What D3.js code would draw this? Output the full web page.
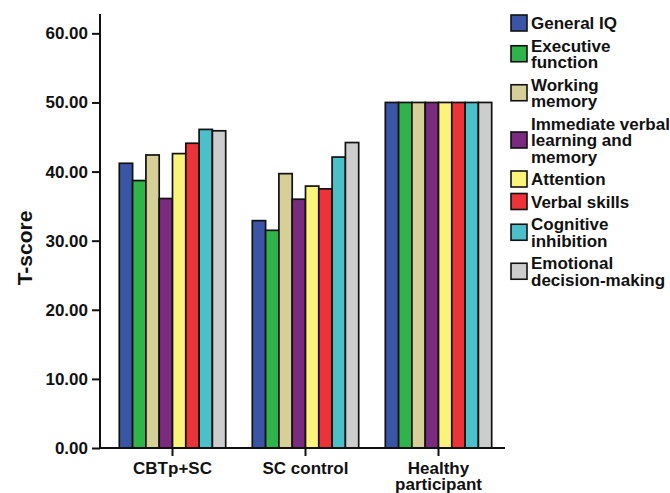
<!DOCTYPE html>
<html>
<head>
<meta charset="utf-8">
<script src="https://cdn.jsdelivr.net/npm/d3@7"></script>
<style>
  html, body { margin: 0; padding: 0; background: #fff; }
  svg { display: block; font-family: "Liberation Sans", Arial, sans-serif; }
</style>
</head>
<body>
<svg id="chart" width="670" height="493"></svg>
<script>
// ---- data ----
const groups = ["CBTp+SC", "SC control", "Healthy participant"];
const seriesNames = ["General IQ", "Executive function", "Working memory",
  "Immediate verbal learning and memory", "Attention", "Verbal skills",
  "Cognitive inhibition", "Emotional decision-making"];
const legendLines = [["General IQ"], ["Executive", "function"], ["Working", "memory"],
  ["Immediate verbal", "learning and", "memory"], ["Attention"], ["Verbal skills"],
  ["Cognitive", "inhibition"], ["Emotional", "decision-making"]];
const cbtpValues    = [41.2, 38.7, 42.4, 36.1, 42.6, 44.1, 46.1, 45.9];
const scValues      = [32.9, 31.5, 39.7, 36.0, 37.9, 37.5, 42.1, 44.2];
const healthyValues = [50.0, 50.0, 50.0, 50.0, 50.0, 50.0, 50.0, 50.0];
const yTicks = [0, 10, 20, 30, 40, 50, 60];
const colors = ["#3a55a5", "#2fb34b", "#d6cf98", "#7a2a7f", "#fbf47a", "#ec3339", "#4bc0c8", "#cdcdcd"];

const valuesByGroup = [cbtpValues, scValues, healthyValues];
const rows = [];
groups.forEach((g, gi) => seriesNames.forEach((s, si) =>
  rows.push({ group: g, series: s, value: valuesByGroup[gi][si] })));

// ---- layout ----
const svg = d3.select("#chart");
const x0 = d3.scaleBand().domain(groups).range([106, 505]).paddingInner(0.2).paddingOuter(0.1);
const x1 = d3.scaleBand().domain(seriesNames).range([0, x0.bandwidth()]);
const y = d3.scaleLinear().domain([0, 62.8]).range([448, 14]);
const color = d3.scaleOrdinal().domain(seriesNames).range(colors);

// bars
svg.append("g").selectAll("rect").data(rows).join("rect")
  .attr("x", d => x0(d.group) + x1(d.series))
  .attr("y", d => y(d.value))
  .attr("width", x1.bandwidth())
  .attr("height", d => y(0) - y(d.value))
  .attr("fill", d => color(d.series))
  .attr("stroke", "#111")
  .attr("stroke-width", 1.7);

// y axis
const yAxis = svg.append("g").attr("transform", "translate(100,0)")
  .call(d3.axisLeft(y).tickValues(yTicks).tickFormat(d3.format(".2f")).tickSize(8).tickPadding(4));
yAxis.select(".domain").attr("d", `M0,${y.range()[1]}V${y(0)}`).attr("stroke", "#111").attr("stroke-width", 2);
yAxis.selectAll(".tick line").attr("stroke", "#111").attr("stroke-width", 2);
yAxis.selectAll(".tick text").attr("font-size", 17).attr("font-weight", "bold").attr("fill", "#111")
  .attr("font-family", "Liberation Sans, Arial, sans-serif");

// x axis
const xAxis = svg.append("g").attr("transform", `translate(0,${y(0)})`)
  .call(d3.axisBottom(x0).tickSize(8).tickFormat(""));
xAxis.select(".domain").attr("d", "M100,0H505").attr("stroke", "#111").attr("stroke-width", 2);
xAxis.selectAll(".tick line").attr("stroke", "#111").attr("stroke-width", 2);
xAxis.selectAll(".tick").each(function(d) {
  const words = d === "Healthy participant" ? ["Healthy", "participant"] : [d];
  const t = d3.select(this).append("text")
    .attr("text-anchor", "middle").attr("fill", "#111")
    .attr("font-size", 17).attr("font-weight", "bold")
    .attr("font-family", "Liberation Sans, Arial, sans-serif");
  words.forEach((w, i) => t.append("tspan").attr("x", 0).attr("y", 26 + i * 15.5).text(w));
});

// y title
svg.append("text")
  .attr("transform", "translate(32,248) rotate(-90)")
  .attr("text-anchor", "middle")
  .attr("font-size", 21).attr("font-weight", "bold").attr("fill", "#111")
  .text("T-score");

// legend
const lineH = 16.5, gap = 6, firstCenter = 23;
let cy = firstCenter;
const legend = svg.append("g");
seriesNames.forEach((s, i) => {
  const lines = legendLines[i];
  const blockCenter = cy + (lines.length - 1) * lineH / 2;
  legend.append("rect")
    .attr("x", 511).attr("y", blockCenter - 8)
    .attr("width", 16).attr("height", 16)
    .attr("fill", color(s)).attr("stroke", "#111").attr("stroke-width", 1.6);
  const t = legend.append("text").attr("fill", "#111")
    .attr("font-size", 17).attr("font-weight", "bold");
  lines.forEach((l, li) => t.append("tspan").attr("x", 531).attr("y", cy + 6 + li * lineH).text(l));
  cy += lines.length * lineH + gap;
});
</script>
</body>
</html>
